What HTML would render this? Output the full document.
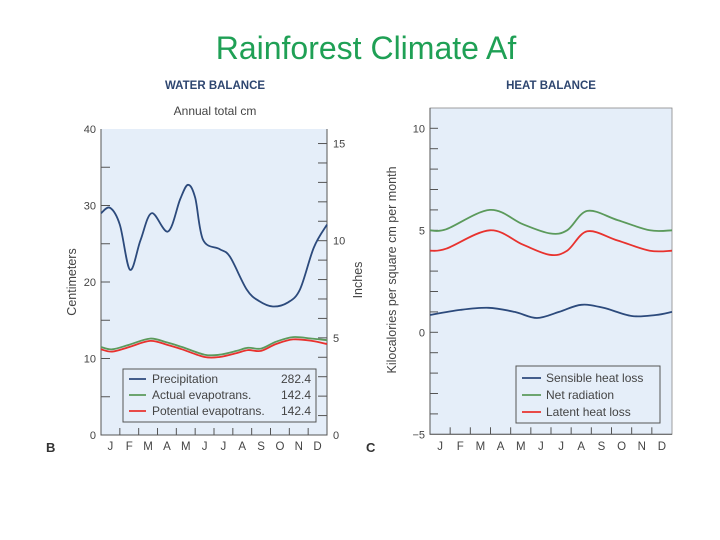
<!DOCTYPE html>
<html><head><meta charset="utf-8">
<style>
body{margin:0;background:#fff;}
svg{display:block;font-family:"Liberation Sans",sans-serif;}
</style></head>
<body>
<svg id="chart" width="720" height="540" viewBox="0 0 720 540" xmlns="http://www.w3.org/2000/svg">
<text x="366" y="59" text-anchor="middle" font-size="32" fill="#1fa055">Rainforest Climate Af</text>
<text x="215" y="89" text-anchor="middle" font-size="11.5" font-weight="bold" fill="#2e4670">WATER BALANCE</text>
<text x="215" y="115" text-anchor="middle" font-size="12" fill="#444">Annual total cm</text>
<text x="551" y="89" text-anchor="middle" font-size="11.5" font-weight="bold" fill="#2e4670">HEAT BALANCE</text>
<text x="46" y="452" font-size="13" font-weight="bold" fill="#333">B</text>
<text x="366" y="452" font-size="13" font-weight="bold" fill="#333">C</text>
<g id="left"></g>
<g id="right"></g>
</svg>
<script>
// Water balance data (month-position, value in cm)
const precipMonths = [0, 0.48, 1.0, 1.54, 2.1, 2.69, 3.56, 4.2, 4.62, 5.0, 5.42, 6.3, 6.85, 7.74, 8.4, 9.13, 9.9, 10.56, 11.3, 12];
const precipValues = [29, 29.7, 27.5, 21.6, 25.5, 29, 26.6, 30.8, 32.7, 31.0, 25.5, 24.3, 23.3, 19, 17.5, 16.8, 17.3, 19, 24.5, 27.5];
const actualMonths = [0, 0.6, 1.5, 2.6, 3.5, 4.3, 5.5, 6.3, 7.2, 7.8, 8.5, 9.3, 10.2, 11.2, 12];
const actualValues = [11.5, 11.2, 11.8, 12.6, 12.1, 11.5, 10.5, 10.5, 11, 11.4, 11.3, 12.2, 12.8, 12.6, 12.4];
const potentialMonths = [0, 0.6, 1.5, 2.6, 3.5, 4.3, 5.5, 6.3, 7.2, 7.8, 8.5, 9.3, 10.2, 11.2, 12];
const potentialValues = [11.2, 10.9, 11.5, 12.3, 11.8, 11.2, 10.2, 10.2, 10.7, 11.1, 11, 11.9, 12.5, 12.3, 11.9];
// Heat balance data
const netMonths = [0, 0.8, 2.97, 4.6, 5.94, 6.8, 7.8, 9.3, 10.9, 12];
const netValues = [5.0, 5.05, 6.0, 5.3, 4.85, 5.0, 5.95, 5.5, 5.0, 5.0];
const latentMonths = [0, 0.8, 2.97, 4.6, 5.94, 6.8, 7.8, 9.3, 10.9, 12];
const latentValues = [4.0, 4.1, 5.0, 4.3, 3.8, 4.0, 4.95, 4.5, 4.0, 4.0];
const sensibleMonths = [0, 1.5, 2.9, 4.2, 5.3, 6.4, 7.5, 8.6, 10.0, 11.2, 12];
const sensibleValues = [0.85, 1.1, 1.2, 1.0, 0.7, 1.0, 1.35, 1.2, 0.8, 0.85, 1.0];
const monthLabels = ["J","F","M","A","M","J","J","A","S","O","N","D"];
const cmTickLabels = [0, 10, 20, 30, 40];
const inchTickLabels = [0, 5, 10, 15];
const heatTickLabels = [-5, 0, 5, 10];

const NS = "http://www.w3.org/2000/svg";
function mk(parent, tag, attrs, text){
  const e = document.createElementNS(NS, tag);
  for (const k in attrs) e.setAttribute(k, attrs[k]);
  if (text !== undefined) e.textContent = text;
  parent.appendChild(e);
  return e;
}
function smooth(pts){
  let d = "M" + pts[0][0].toFixed(1) + "," + pts[0][1].toFixed(1);
  for (let i = 0; i < pts.length - 1; i++){
    const p0 = pts[Math.max(0,i-1)], p1 = pts[i], p2 = pts[i+1], p3 = pts[Math.min(pts.length-1,i+2)];
    const c1x = p1[0] + (p2[0]-p0[0])/6, c1y = p1[1] + (p2[1]-p0[1])/6;
    const c2x = p2[0] - (p3[0]-p1[0])/6, c2y = p2[1] - (p3[1]-p1[1])/6;
    d += " C" + c1x.toFixed(1)+","+c1y.toFixed(1)+" "+c2x.toFixed(1)+","+c2y.toFixed(1)+" "+p2[0].toFixed(1)+","+p2[1].toFixed(1);
  }
  return d;
}
const BLUE = "#2c4a7c", GREEN = "#5b9a5b", RED = "#e8322e";

// ---- Left panel ----
const L = document.getElementById("left");
const lx0 = 101, lx1 = 327, ly0 = 435, ly1 = 129;
const lx = m => lx0 + m * (lx1 - lx0) / 12;
const ly = v => ly0 - v * (ly0 - ly1) / 40;
const lyIn = v => ly(v * 2.54);
let e;
e = mk(L, "rect", {x: lx0, y: ly1, width: lx1-lx0, height: ly0-ly1, fill: "#e5eef9"});


e = mk(L, "path", {d: `M${lx0},${ly1}V${ly0}H${lx1}V${ly1}`, fill: "none", stroke: "#555", "stroke-width": 1});


for (let v = 0; v <= 40; v += 5){
  if (v > 0 && v < 40){
    e = mk(L, "line", {x1: lx0, x2: lx0+9, y1: ly(v), y2: ly(v), stroke: "#555"});
    
    
  }
}
cmTickLabels.forEach(v => {
  e = mk(L, "text", {x: lx0-5, y: ly(v)+4, "text-anchor": "end", "font-size": 11, fill: "#444"}, String(v));
  
  
});
for (let v = 1; v <= 15; v++){
  e = mk(L, "line", {x1: lx1-9, x2: lx1, y1: lyIn(v), y2: lyIn(v), stroke: "#555"});
  
  
}
inchTickLabels.forEach(v => {
  e = mk(L, "text", {x: lx1+6, y: lyIn(v)+4, "font-size": 11, fill: "#444"}, String(v));
  
  
});
for (let m = 1; m < 12; m++){
  e = mk(L, "line", {x1: lx(m), x2: lx(m), y1: ly0-7, y2: ly0, stroke: "#555"});
  
  
}
monthLabels.forEach((t, i) => {
  e = mk(L, "text", {x: lx(i+0.5), y: 450, "text-anchor": "middle", "font-size": 11.5, fill: "#444"}, t);
  
  
});
e = mk(L, "text", {transform: "translate(76,282) rotate(-90)", "text-anchor": "middle", "font-size": 12.5, fill: "#444"}, "Centimeters");


e = mk(L, "text", {transform: "translate(362,280) rotate(-90)", "text-anchor": "middle", "font-size": 12.5, fill: "#444"}, "Inches");


function series(g, ms, vs, xf, yf, color, name){
  const pts = ms.map((m, i) => [xf(m), yf(vs[i])]);
  const p = mk(g, "path", {d: smooth(pts), fill: "none", stroke: color, "stroke-width": 1.8});
  
  
}
series(L, actualMonths, actualValues, lx, ly, GREEN, "actual-evapotrans-line");
series(L, potentialMonths, potentialValues, lx, ly, RED, "potential-evapotrans-line");
series(L, precipMonths, precipValues, lx, ly, BLUE, "precipitation-line");
// left legend
const lg = mk(L, "g", {});


mk(lg, "rect", {x: 123, y: 369, width: 193, height: 53, fill: "#e5eef9", stroke: "#555"});
[["Precipitation","282.4",BLUE],["Actual evapotrans.","142.4",GREEN],["Potential evapotrans.","142.4",RED]].forEach((r,i) => {
  const y = 383 + i*16;
  const g = mk(lg, "g", {});
  
  
  mk(g, "line", {x1: 129, x2: 146, y1: y-4, y2: y-4, stroke: r[2], "stroke-width": 1.8});
  mk(g, "text", {x: 152, y: y, "font-size": 12, fill: "#444"}, r[0]);
  mk(g, "text", {x: 311, y: y, "text-anchor": "end", "font-size": 12, fill: "#444"}, r[1]);
});

// ---- Right panel ----
const R = document.getElementById("right");
const rx0 = 430, rx1 = 672, ry0 = 434.3, rTop = 108;
const rx = m => rx0 + m * (rx1 - rx0) / 12;
const ry = v => ry0 - (v + 5) * 20.4;
e = mk(R, "rect", {x: rx0, y: rTop, width: rx1-rx0, height: ry0-rTop, fill: "#e5eef9", stroke: "#888", "stroke-width": 0.8});


e = mk(R, "path", {d: `M${rx0},${rTop}V${ry0}H${rx1}`, fill: "none", stroke: "#555"});


for (let v = -4; v <= 10; v++){
  e = mk(R, "line", {x1: rx0, x2: rx0+8, y1: ry(v), y2: ry(v), stroke: "#555"});
  
  
}
heatTickLabels.forEach(v => {
  e = mk(R, "text", {x: rx0-5, y: ry(v)+4, "text-anchor": "end", "font-size": 11, fill: "#444"}, v < 0 ? "\u2212" + Math.abs(v) : String(v));
  
  
});
for (let m = 1; m < 12; m++){
  e = mk(R, "line", {x1: rx(m), x2: rx(m), y1: ry0-7, y2: ry0, stroke: "#555"});
  
  
}
monthLabels.forEach((t, i) => {
  e = mk(R, "text", {x: rx(i+0.5), y: 450, "text-anchor": "middle", "font-size": 11.5, fill: "#444"}, t);
  
  
});
e = mk(R, "text", {transform: "translate(396,270) rotate(-90)", "text-anchor": "middle", "font-size": 12.5, fill: "#444"}, "Kilocalories per square cm per month");


series(R, netMonths, netValues, rx, ry, GREEN, "net-radiation-line");
series(R, latentMonths, latentValues, rx, ry, RED, "latent-heat-loss-line");
series(R, sensibleMonths, sensibleValues, rx, ry, BLUE, "sensible-heat-loss-line");
const rg = mk(R, "g", {});


mk(rg, "rect", {x: 516, y: 366, width: 144, height: 57, fill: "#e5eef9", stroke: "#555"});
[["Sensible heat loss",BLUE],["Net radiation",GREEN],["Latent heat loss",RED]].forEach((r,i) => {
  const y = 382 + i*17;
  const g = mk(rg, "g", {});
  
  
  mk(g, "line", {x1: 522, x2: 541, y1: y-4, y2: y-4, stroke: r[1], "stroke-width": 1.8});
  mk(g, "text", {x: 546, y: y, "font-size": 12, fill: "#444"}, r[0]);
});
</script>
</body></html>
